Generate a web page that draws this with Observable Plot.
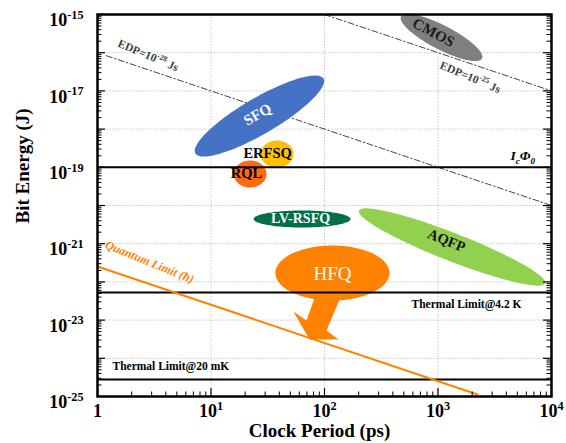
<!DOCTYPE html>
<html><head><meta charset="utf-8">
<script src="https://cdn.jsdelivr.net/npm/d3@7"></script>
<script src="https://cdn.jsdelivr.net/npm/@observablehq/plot@0.6"></script>
<style>
body{margin:0;background:#fff;}
#chart{width:566px;height:443px;}
</style></head><body><div id="chart"></div>
<script>
const FONT = '"Liberation Serif","Times New Roman",serif';

// ---- axes ----
const xTicks = [1, 10, 100, 1000, 10000];
const xTickLabels = ["1", "10^{1}", "10^{2}", "10^{3}", "10^{4}"];
const yTicks = [1e-25, 1e-23, 1e-21, 1e-19, 1e-17, 1e-15];
const yTickLabels = ["10^{-25}", "10^{-23}", "10^{-21}", "10^{-19}", "10^{-17}", "10^{-15}"];
const xGrid = [10, 100, 1000];
const yGrid = [1e-24, 1e-23, 1e-22, 1e-21, 1e-20, 1e-19, 1e-18, 1e-17, 1e-16];

// ---- technology regions (ellipses): centre, end of major semi-axis, end of minor semi-axis ----
const techNames   = ["CMOS", "SFQ", "ERFSQ", "RQL", "LV-RSFQ", "AQFP", "HFQ"];
const techColors  = ["#7f7f7f", "#4472c4", "#ffc000", "#ff6a0a", "#00704a", "#92d050", "#ff8200"];
const centerPeriod = [1074, 26.7, 38.1, 22.1, 63.4, 1328, 117.5];
const centerEnergy = [2.5e-16, 2.2e-18, 2.23e-19, 6.68e-20, 4.43e-21, 8.2e-22, 1.71e-22];
const majorPeriod  = [2443, 97.8, 53.3, 30.8, 169.4, 8790, 374];
const majorEnergy  = [7.05e-17, 2.1e-17, 2.23e-19, 6.68e-20, 4.43e-21, 9.14e-23, 1.71e-22];
const minorPeriod  = [960, 32.2, 38.1, 22.1, 63.4, 1197, 117.5];
const minorEnergy  = [1.31e-16, 8.65e-19, 5.03e-19, 1.51e-19, 7.4e-21, 3.74e-22, 8.97e-22];

// HFQ call-out arrow outline
const arrowPeriod = [85.1, 69.4, 53.3, 73.8, 132.8, 104.2, 144.2];
const arrowEnergy = [5.3e-23, 9.77e-24, 1.68e-23, 3.1e-24, 3.1e-24, 5.35e-24, 5.3e-23];

// ---- reference lines ----
const edp28Period = [1.2, 10000];
const edp28Energy = [8.33e-17, 1e-20];
const edp25Period = [100, 10000];
const edp25Energy = [1e-15, 1e-17];
const quantumPeriod = [1, 2230];
const quantumEnergy = [2.53e-22, 1.13e-25];
const icPhi0Energy = 1e-19;
const thermal42Energy = 5.3e-23;
const thermal20mEnergy = 2.79e-25;

// ---- labels ----
const labelText   = ["CMOS", "SFQ", "ERFSQ", "RQL", "LV-RSFQ", "AQFP", "HFQ",
                     "EDP=10^{-28} Js", "EDP=10^{-25} Js", "I_{c}Φ_{0}",
                     "Thermal Limit@4.2 K", "Thermal Limit@20 mK", "Quantum Limit (ħ)"];
const labelPeriod = [912, 25.7, 31.5, 20.5, 61.5, 1188, 117.5, 2.79, 1923, 4355, 584.5, 1.355, 2.87];
const labelEnergy = [3.38e-16, 2.41e-18, 2.30e-19, 6.88e-20, 4.57e-21, 1.21e-21, 1.66e-22,
                     8.45e-17, 2.29e-17, 2.04e-19, 2.56e-23, 6.21e-25, 3.32e-22];
const labelAngle  = [28, -30, 0, 0, 0, 22, 0, 23, 23, 0, 0, 0, 22];
const labelColor  = ["#1a1a1a", "#ffffff", "#000000", "#000000", "#ffffff", "#111111", "#ffffff",
                     "#404040", "#404040", "#000000", "#000000", "#000000", "#ff8200"];
const labelSize   = [15, 15, 14.5, 14.5, 14, 14.5, 19, 11.5, 11.5, 13.5, 11.5, 11.5, 12];
const labelWeight = ["bold","bold","bold","bold","bold","bold","normal","bold","bold","bold","bold","bold","bold"];
const labelStyle  = ["normal","normal","normal","normal","normal","normal","normal","normal","normal","italic","normal","normal","italic"];
const labelAnchor = ["middle","middle","middle","middle","middle","middle","middle","middle","middle","start","start","start","middle"];

// ---- build ellipse outlines in log space ----
const L = Math.log10;
const shapeRows = [];
techNames.forEach((name, i) => {
  const c = [L(centerPeriod[i]), L(centerEnergy[i])];
  const a = [L(majorPeriod[i]) - c[0], L(majorEnergy[i]) - c[1]];
  const b = [L(minorPeriod[i]) - c[0], L(minorEnergy[i]) - c[1]];
  for (let k = 0; k < 120; k++) {
    const t = 2 * Math.PI * k / 120, co = Math.cos(t), si = Math.sin(t);
    shapeRows.push({name, period: 10 ** (c[0] + a[0] * co + b[0] * si), energy: 10 ** (c[1] + a[1] * co + b[1] * si)});
  }
});
const arrowRows = arrowPeriod.map((p, i) => ({period: p, energy: arrowEnergy[i]}));
const pts = (P, E) => P.map((p, i) => ({period: p, energy: E[i]}));

const xAll = d3.scaleLog().domain([1, 1e4]).ticks(40);
const yAll = d3.scaleLog().domain([1e-25, 1e-15]).ticks(100);
const isDecade = v => Math.abs(L(v) - Math.round(L(v))) < 1e-9;
const xMajor = xAll.filter(isDecade), xMinor = xAll.filter(v => !isDecade(v));
const yMajor = yAll.filter(isDecade), yMinor = yAll.filter(v => !isDecade(v));

const W = 566, H = 443, mL = 97, mR = 15, mT = 14, mB = 47;
const FW = W - mL - mR, FH = H - mT - mB;

const marks = [
  Plot.ruleX(xGrid, {stroke: "#c8c8c8", strokeDasharray: "1.5,1.5"}),
  Plot.ruleY(yGrid, {stroke: "#c8c8c8", strokeDasharray: "1.5,1.5"}),
  Plot.line(pts(edp28Period, edp28Energy), {x: "period", y: "energy", stroke: "#444", strokeWidth: 1, strokeDasharray: "6,2.5,1.5,2.5"}),
  Plot.line(pts(edp25Period, edp25Energy), {x: "period", y: "energy", stroke: "#444", strokeWidth: 1, strokeDasharray: "6,2.5,1.5,2.5"}),
];
techNames.forEach((name, i) => {
  marks.push(Plot.line(shapeRows.filter(r => r.name === name), {x: "period", y: "energy", fill: techColors[i], stroke: "none", curve: "linear-closed", clip: true, className: "soft"}));
});
marks.push(Plot.line(arrowRows, {x: "period", y: "energy", fill: techColors[6], stroke: "none", curve: "linear-closed"}));
marks.push(
  Plot.ruleY([icPhi0Energy, thermal42Energy, thermal20mEnergy], {stroke: "#000", strokeWidth: 2}),
  Plot.line(pts(quantumPeriod, quantumEnergy), {x: "period", y: "energy", stroke: "#ff8200", strokeWidth: 2}),
  Plot.frame({stroke: "#000", strokeWidth: 2.5}),
  Plot.tickX(xMajor, {x: d => d, insetTop: FH - 8, stroke: "#000", strokeWidth: 1.2}),
  Plot.tickX(xMinor, {x: d => d, insetTop: FH - 4.5, stroke: "#000", strokeWidth: 1}),
  Plot.tickY(yMajor, {y: d => d, insetRight: FW - 8, stroke: "#000", strokeWidth: 1.2}),
  Plot.tickY(yMinor, {y: d => d, insetRight: FW - 4.5, stroke: "#000", strokeWidth: 1}),
  Plot.tickY(yMajor, {y: d => d, insetLeft: FW - 8, stroke: "#000", strokeWidth: 1.2}),
  Plot.tickY(yMinor, {y: d => d, insetLeft: FW - 4.5, stroke: "#000", strokeWidth: 1}),
  Plot.axisX({ticks: xTicks, tickFormat: d => xTickLabels[xTicks.indexOf(d)], tickSize: 0, tickPadding: 8, fontSize: 18, fontWeight: "bold", label: null}),
  Plot.axisY({ticks: yTicks, tickFormat: d => yTickLabels[yTicks.indexOf(d)], tickSize: 0, tickPadding: 14, fontSize: 18, fontWeight: "bold", dy: 6, label: null}),
  Plot.text(["Bit Energy (J)"], {frameAnchor: "left", dx: -75, dy: 18, rotate: -90, fontSize: 19, fontWeight: "bold"}),
  Plot.text(["Clock Period (ps)"], {frameAnchor: "bottom", dx: -5, dy: 40, lineAnchor: "bottom", fontSize: 19, fontWeight: "bold"})
);
labelText.forEach((t, i) => {
  marks.push(Plot.text([i], {x: j => labelPeriod[j], y: j => labelEnergy[j], text: j => labelText[j],
    rotate: labelAngle[i], fill: labelColor[i], fontSize: labelSize[i], fontWeight: labelWeight[i],
    fontStyle: labelStyle[i], textAnchor: labelAnchor[i]}));
});

const chart = Plot.plot({
  width: W, height: H, marginLeft: mL, marginRight: mR, marginTop: mT, marginBottom: mB,
  x: {type: "log", domain: [1, 1e4]},
  y: {type: "log", domain: [1e-25, 1e-15]},
  style: {fontFamily: FONT, background: "#fff", color: "#000"},
  marks
});
document.getElementById("chart").appendChild(chart);

// soft edges on the technology regions
const NS = "http://www.w3.org/2000/svg";
const defs = document.createElementNS(NS, "defs");
defs.innerHTML = '<filter id="softEdge" x="-10%" y="-10%" width="120%" height="120%"><feGaussianBlur stdDeviation="0.7"/></filter>';
chart.insertBefore(defs, chart.firstChild);
chart.querySelectorAll("g.soft path").forEach(p => p.setAttribute("filter", "url(#softEdge)"));

// superscripts ^{..} and subscripts _{..} as tspans
chart.querySelectorAll("text").forEach(t => {
  const s = t.textContent;
  if (!/[\^_]\{/.test(s)) return;
  const fs = parseFloat(getComputedStyle(t).fontSize) || 12;
  while (t.firstChild) t.removeChild(t.firstChild);
  const re = /([\^_])\{([^}]*)\}/g;
  let last = 0, cur = 0, m;
  const add = (str, dy, size) => {
    const ts = document.createElementNS(NS, "tspan");
    ts.textContent = str;
    if (dy) ts.setAttribute("dy", dy.toFixed(2));
    if (size) ts.setAttribute("font-size", size.toFixed(2));
    t.appendChild(ts);
  };
  while ((m = re.exec(s))) {
    if (m.index > last) { add(s.slice(last, m.index), -cur, null); cur = 0; }
    const target = m[1] === "^" ? -0.42 * fs : 0.28 * fs;
    add(m[2], target - cur, 0.68 * fs); cur = target;
    last = re.lastIndex;
  }
  if (last < s.length) { add(s.slice(last), -cur, null); cur = 0; }
});
</script></body></html>
